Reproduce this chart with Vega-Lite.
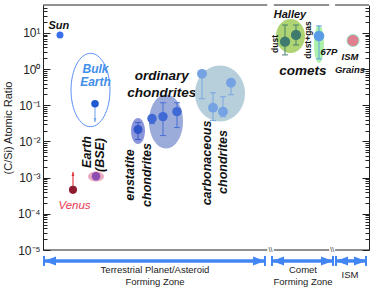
{
  "$schema": "https://vega.github.io/schema/vega-lite/v6.json",
  "width": 326,
  "height": 245,
  "autosize": {"type": "none"},
  "padding": {"left": 43, "top": 5, "right": 5, "bottom": 41},
  "config": {"view": {"stroke": null}, "font": "Liberation Sans", "text": {"font": "Liberation Sans"}},
  "datasets": {
    "pts": [
      {"g": "sun", "x": 5.21, "y": 8.81},
      {"g": "bulk", "x": 15.95, "y": 0.111},
      {"g": "venus", "x": 9.2, "y": 0.00046},
      {"g": "bse", "x": 16.26, "y": 0.00109},
      {"g": "ens", "x": 29.14, "y": 0.0214},
      {"g": "ord", "x": 33.44, "y": 0.043},
      {"g": "ord", "x": 36.81, "y": 0.0488},
      {"g": "ord", "x": 41.1, "y": 0.0669},
      {"g": "carb", "x": 48.77, "y": 0.744},
      {"g": "carb", "x": 52.15, "y": 0.0862},
      {"g": "carb", "x": 55.21, "y": 0.0669},
      {"g": "carb", "x": 57.67, "y": 0.421},
      {"g": "halley", "x": 74.23, "y": 5.75},
      {"g": "halley", "x": 77.6, "y": 8.8},
      {"g": "67p", "x": 84.66, "y": 8.26},
      {"g": "ism", "x": 95.09, "y": 6.2}
    ],
    "err": [
      {"g": "ens", "x": 29.14, "lo": 0.01135, "hi": 0.0333},
      {"g": "ord", "x": 33.44, "lo": 0.0313, "hi": 0.0497},
      {"g": "ord", "x": 36.81, "lo": 0.01462, "hi": 0.118},
      {"g": "ord", "x": 41.1, "lo": 0.0243, "hi": 0.118},
      {"g": "carb", "x": 48.77, "lo": 0.1525, "hi": 0.744},
      {"g": "carb", "x": 52.15, "lo": 0.0379, "hi": 0.223},
      {"g": "carb", "x": 55.21, "lo": 0.0488, "hi": 0.173},
      {"g": "carb", "x": 57.67, "lo": 0.1965, "hi": 0.421},
      {"g": "halley", "x": 74.23, "lo": 2.48, "hi": 16.6},
      {"g": "halley", "x": 77.6, "lo": 4.67, "hi": 16.6},
      {"g": "67p", "x": 84.66, "lo": 1.92, "hi": 15.6}
    ],
    "blobs": [
      {"g": "ens", "x": 29.14, "y": 0.01954},
      {"g": "ord", "x": 37.73, "y": 0.03573},
      {"g": "carb", "x": 54.29, "y": 0.2125},
      {"g": "halley", "x": 75.92, "y": 8.26},
      {"g": "67p", "x": 84.66, "y": 4.97},
      {"g": "ism", "x": 95.09, "y": 6.2},
      {"g": "bse", "x": 16.26, "y": 0.00108},
      {"g": "bulk", "x": 14.57, "y": 0.2655}
    ],
    "arrows": [
      {"g": "bulkArrow", "x": 15.95, "y": 0.111, "y2": 0.0346},
      {"g": "venusArrow", "x": 9.2, "y": 0.00046, "y2": 0.001435}
    ],
    "labels": [
      {"set": "big", "text": "ordinary", "x": 36.4, "y": 0.6474},
      {"set": "big", "text": "chondrites", "x": 36.4, "y": 0.2195},
      {"set": "big", "text": "comets", "x": 79.75, "y": 0.89},
      {"set": "mid", "text": "Sun", "x": 4.85, "y": 15.6},
      {"set": "mid", "text": "Halley", "x": 75.77, "y": 31.45},
      {"set": "small", "text": "67P", "x": 87.73, "y": 2.98},
      {"set": "small", "text": "ISM", "x": 94.17, "y": 2.17},
      {"set": "small", "text": "Grains", "x": 94.17, "y": 0.949},
      {"set": "blue", "text": "Bulk", "x": 16.1, "y": 0.979},
      {"set": "blue", "text": "Earth", "x": 16.1, "y": 0.4418},
      {"set": "red", "text": "Venus", "x": 9.66, "y": 0.000165},
      {"set": "rot", "text": "Earth", "x": 13.65, "y": 0.00513},
      {"set": "rot", "text": "(BSE)", "x": 17.48, "y": 0.00423},
      {"set": "rot", "text": "enstatite", "x": 26.69, "y": 0.001186},
      {"set": "rot", "text": "chondrites", "x": 31.9, "y": 0.001186},
      {"set": "rot", "text": "carbonaceous", "x": 50.2, "y": 0.00255},
      {"set": "rot", "text": "chondrites", "x": 55.21, "y": 0.00271},
      {"set": "rotsmall", "text": "dust", "x": 71.26, "y": 4.97},
      {"set": "rotsmall", "text": "dust+gas", "x": 81.38, "y": 6.41},
      {"set": "zone", "text": "Terrestrial Planet/Asteroid", "x": 34.36, "y": 0.0000028},
      {"set": "zone", "text": "Forming Zone", "x": 34.36, "y": 0.00000131},
      {"set": "zone", "text": "Comet", "x": 79.75, "y": 0.0000028},
      {"set": "zone", "text": "Forming Zone", "x": 79.75, "y": 0.00000131},
      {"set": "zone", "text": "ISM", "x": 94.17, "y": 0.00000204}
    ],
    "frame": [
      {"x": 0, "x2": 68.8},
      {"x": 70.8, "x2": 87.8},
      {"x": 89.6, "x2": 100}
    ],
    "brk": [{"x": 69.8}, {"x": 88.7}],
    "zones": [
      {"x": 0.31, "x2": 68.1, "y": 0.00000498},
      {"x": 70.25, "x2": 88.96, "y": 0.00000498},
      {"x": 89.88, "x2": 99.08, "y": 0.00000498}
    ]
  },
  "layer": [
    {
      "data": {"name": "pts"},
      "mark": {"type": "point", "opacity": 0},
      "encoding": {
        "x": {"field": "x", "type": "quantitative", "scale": {"domain": [0, 100], "nice": false, "zero": false}, "axis": null},
        "y": {"field": "y", "type": "quantitative", "scale": {"type": "log", "domain": [0.00001, 59.4], "nice": false},
          "axis": {"orient": "left", "title": "(C/Si) Atomic Ratio", "titleFont": "Liberation Sans", "titleFontSize": 11, "titleFontWeight": "normal", "titleColor": "#222", "titlePadding": 4,
            "values": [0.00001,0.00002,0.00003,0.00004,0.00005,0.00006,0.00007,0.00008,0.00009,0.0001,0.0002,0.0003,0.0004,0.0005,0.0006,0.0007,0.0008,0.0009,0.001,0.002,0.003,0.004,0.005,0.006,0.007,0.008,0.009,0.01,0.02,0.03,0.04,0.05,0.06,0.07,0.08,0.09,0.1,0.2,0.3,0.4,0.5,0.6,0.7,0.8,0.9,1,2,3,4,5,6,7,8,9,10,20,30,40,50],
            "labelExpr": "abs(log(datum.value)/LN10 - round(log(datum.value)/LN10)) < 0.001 ? '10' + ['⁻⁵','⁻⁴','⁻³','⁻²','⁻¹','⁰','¹'][round(log(datum.value)/LN10)+5] : ''",
            "labelFont": "Liberation Sans", "labelFontSize": 12, "labelColor": "#222", "labelOverlap": false, "labelFlush": false, "labelPadding": 10,
            "tickSize": {"condition": {"test": "abs(log(datum.value)/LN10 - round(log(datum.value)/LN10)) < 0.001", "value": -7}, "value": -4},
            "tickColor": "#222", "domainColor": "#222", "grid": false}
        }
      }
    },
    {
      "data": {"name": "pts"},
      "mark": {"type": "point", "opacity": 0},
      "encoding": {
        "x": {"field": "x", "type": "quantitative", "scale": {"domain": [0, 100], "nice": false, "zero": false}, "axis": null},
        "y": {"field": "y", "type": "quantitative", "scale": {"type": "log", "domain": [0.00001, 59.4], "nice": false},
          "axis": {"orient": "right", "title": null, "labels": false,
            "values": [0.00001,0.00002,0.00003,0.00004,0.00005,0.00006,0.00007,0.00008,0.00009,0.0001,0.0002,0.0003,0.0004,0.0005,0.0006,0.0007,0.0008,0.0009,0.001,0.002,0.003,0.004,0.005,0.006,0.007,0.008,0.009,0.01,0.02,0.03,0.04,0.05,0.06,0.07,0.08,0.09,0.1,0.2,0.3,0.4,0.5,0.6,0.7,0.8,0.9,1,2,3,4,5,6,7,8,9,10,20,30,40,50],
            "tickSize": {"condition": {"test": "abs(log(datum.value)/LN10 - round(log(datum.value)/LN10)) < 0.001", "value": -7}, "value": -4},
            "tickColor": "#222", "domainColor": "#222", "grid": false}
        }
      }
    },
    {
      "data": {"name": "blobs"},
      "transform": [{"filter": "datum.g == 'ens'"}],
      "mark": {"type": "point", "shape": "M -0.538 0 A 0.538 1 0 1 0 0.538 0 A 0.538 1 0 1 0 -0.538 0 Z", "size": 676, "filled": true, "color": "#7783d2", "opacity": 0.85, "strokeWidth": 0},
      "encoding": {
        "x": {"field": "x", "type": "quantitative", "scale": {"domain": [0, 100], "nice": false, "zero": false}, "axis": null},
        "y": {"field": "y", "type": "quantitative", "scale": {"type": "log", "domain": [0.00001, 59.4], "nice": false}, "axis": null}
      }
    },
    {
      "data": {"name": "blobs"},
      "transform": [{"filter": "datum.g == 'ord'"}],
      "mark": {"type": "point", "shape": "M -0.63 0 A 0.63 1 0 1 0 0.63 0 A 0.63 1 0 1 0 -0.63 0 Z", "size": 2916, "filled": true, "color": "#8b9dd3", "opacity": 0.85, "strokeWidth": 0},
      "encoding": {
        "x": {"field": "x", "type": "quantitative", "axis": null},
        "y": {"field": "y", "type": "quantitative", "axis": null}
      }
    },
    {
      "data": {"name": "labels"},
      "transform": [{"filter": "datum.set == 'big'"}],
      "mark": {"type": "text", "font": "Liberation Sans", "fontSize": 13.5, "fontWeight": "bold", "fontStyle": "italic", "color": "#111", "baseline": "middle", "align": "center"},
      "encoding": {
        "x": {"field": "x", "type": "quantitative", "axis": null},
        "y": {"field": "y", "type": "quantitative", "axis": null},
        "text": {"field": "text"}
      }
    },
    {
      "data": {"name": "blobs"},
      "transform": [{"filter": "datum.g == 'carb'"}],
      "mark": {"type": "point", "shape": "M -0.893 0 A 0.893 1 0 1 0 0.893 0 A 0.893 1 0 1 0 -0.893 0 Z", "size": 3136, "filled": true, "color": "#aecad6", "opacity": 0.9, "strokeWidth": 0},
      "encoding": {
        "x": {"field": "x", "type": "quantitative", "axis": null},
        "y": {"field": "y", "type": "quantitative", "axis": null}
      }
    },
    {
      "data": {"name": "blobs"},
      "transform": [{"filter": "datum.g == 'halley'"}],
      "mark": {"type": "point", "shape": "M -0.853 0 A 0.853 1 0 1 0 0.853 0 A 0.853 1 0 1 0 -0.853 0 Z", "size": 1156, "filled": true, "color": "#a6cf64", "opacity": 0.9, "strokeWidth": 0},
      "encoding": {
        "x": {"field": "x", "type": "quantitative", "axis": null},
        "y": {"field": "y", "type": "quantitative", "axis": null}
      }
    },
    {
      "data": {"name": "blobs"},
      "transform": [{"filter": "datum.g == '67p'"}],
      "mark": {"type": "point", "shape": "M -0.26 0 A 0.26 1 0 1 0 0.26 0 A 0.26 1 0 1 0 -0.26 0 Z", "size": 1444, "filled": true, "color": "#a2f0a0", "opacity": 0.9, "strokeWidth": 0},
      "encoding": {
        "x": {"field": "x", "type": "quantitative", "axis": null},
        "y": {"field": "y", "type": "quantitative", "axis": null}
      }
    },
    {
      "data": {"name": "blobs"},
      "transform": [{"filter": "datum.g == 'ism'"}],
      "mark": {"type": "point", "shape": "circle", "size": 169, "filled": true, "color": "#8fdfba", "opacity": 0.95, "strokeWidth": 0},
      "encoding": {
        "x": {"field": "x", "type": "quantitative", "axis": null},
        "y": {"field": "y", "type": "quantitative", "axis": null}
      }
    },
    {
      "data": {"name": "blobs"},
      "transform": [{"filter": "datum.g == 'bse'"}],
      "mark": {"type": "point", "shape": "M -1 0 A 1 0.625 0 1 0 1 0 A 1 0.625 0 1 0 -1 0 Z", "size": 256, "filled": true, "color": "#e8a2c0", "opacity": 0.9, "strokeWidth": 0},
      "encoding": {
        "x": {"field": "x", "type": "quantitative", "axis": null},
        "y": {"field": "y", "type": "quantitative", "axis": null}
      }
    },
    {
      "data": {"name": "blobs"},
      "transform": [{"filter": "datum.g == 'bulk'"}],
      "mark": {"type": "point", "shape": "M -0.531 0 A 0.531 1 0 1 0 0.531 0 A 0.531 1 0 1 0 -0.531 0 Z", "size": 5388, "filled": false, "color": "#5b8ff9", "strokeWidth": 1, "opacity": 1},
      "encoding": {
        "x": {"field": "x", "type": "quantitative", "axis": null},
        "y": {"field": "y", "type": "quantitative", "axis": null}
      }
    },
    {
      "data": {"name": "err"},
      "mark": {"type": "rule", "strokeWidth": 1.1, "opacity": 0.85},
      "encoding": {
        "x": {"field": "x", "type": "quantitative", "axis": null},
        "y": {"field": "lo", "type": "quantitative", "axis": null},
        "y2": {"field": "hi"},
        "color": {"field": "g", "type": "nominal", "legend": null,
          "scale": {"domain": ["sun", "bulk", "venus", "bse", "ens", "ord", "carb", "halley", "67p", "ism", "bulkArrow", "venusArrow"],
                    "range": ["#3a6ee8", "#1f5bd0", "#8e1b30", "#8d4cb0", "#2f56c9", "#4169d6", "#74a2e2", "#3f7b6c", "#5a9de6", "#e07f90", "#79a7ef", "#e0303a"]}}
      }
    },
    {
      "data": {"name": "err"},
      "mark": {"type": "tick", "orient": "horizontal", "size": 6, "thickness": 1.1, "opacity": 0.85},
      "encoding": {
        "x": {"field": "x", "type": "quantitative", "axis": null},
        "y": {"field": "lo", "type": "quantitative", "axis": null},
        "color": {"field": "g", "type": "nominal", "legend": null}
      }
    },
    {
      "data": {"name": "err"},
      "mark": {"type": "tick", "orient": "horizontal", "size": 6, "thickness": 1.1, "opacity": 0.85},
      "encoding": {
        "x": {"field": "x", "type": "quantitative", "axis": null},
        "y": {"field": "hi", "type": "quantitative", "axis": null},
        "color": {"field": "g", "type": "nominal", "legend": null}
      }
    },
    {
      "data": {"name": "arrows"},
      "mark": {"type": "rule", "strokeWidth": 1.1},
      "encoding": {
        "x": {"field": "x", "type": "quantitative", "axis": null},
        "y": {"field": "y", "type": "quantitative", "axis": null},
        "y2": {"field": "y2"},
        "color": {"field": "g", "type": "nominal", "legend": null}
      }
    },
    {
      "data": {"name": "arrows"},
      "transform": [{"filter": "datum.g == 'bulkArrow'"}],
      "mark": {"type": "point", "shape": "M -0.7 -2 L 0 0 L 0.7 -2 Z", "size": 16, "filled": true, "color": "#79a7ef", "strokeWidth": 0, "opacity": 1},
      "encoding": {
        "x": {"field": "x", "type": "quantitative", "axis": null},
        "y": {"field": "y2", "type": "quantitative", "axis": null}
      }
    },
    {
      "data": {"name": "arrows"},
      "transform": [{"filter": "datum.g == 'venusArrow'"}],
      "mark": {"type": "point", "shape": "M -0.7 2 L 0 0 L 0.7 2 Z", "size": 16, "filled": true, "color": "#e0303a", "strokeWidth": 0, "opacity": 1},
      "encoding": {
        "x": {"field": "x", "type": "quantitative", "axis": null},
        "y": {"field": "y2", "type": "quantitative", "axis": null}
      }
    },
    {
      "data": {"name": "pts"},
      "mark": {"type": "point", "shape": "circle", "filled": true, "opacity": 1, "strokeWidth": 0},
      "encoding": {
        "x": {"field": "x", "type": "quantitative", "axis": null},
        "y": {"field": "y", "type": "quantitative", "axis": null},
        "color": {"field": "g", "type": "nominal", "legend": null},
        "size": {"field": "g", "type": "ordinal", "legend": null,
          "scale": {"domain": ["sun", "bulk", "venus", "bse", "ens", "ord", "carb", "halley", "67p", "ism"], "range": [49, 121, 100, 36, 49, 49, 49, 49, 42, 29]}}
      }
    },
    {
      "data": {"name": "labels"},
      "transform": [{"filter": "datum.set == 'mid'"}],
      "mark": {"type": "text", "font": "Liberation Sans", "fontSize": 11, "fontWeight": "bold", "fontStyle": "italic", "color": "#111", "baseline": "middle", "align": "center"},
      "encoding": {
        "x": {"field": "x", "type": "quantitative", "axis": null},
        "y": {"field": "y", "type": "quantitative", "axis": null},
        "text": {"field": "text"}
      }
    },
    {
      "data": {"name": "labels"},
      "transform": [{"filter": "datum.set == 'small'"}],
      "mark": {"type": "text", "font": "Liberation Sans", "fontSize": 9.5, "fontWeight": "bold", "fontStyle": "italic", "color": "#111", "baseline": "middle", "align": "center"},
      "encoding": {
        "x": {"field": "x", "type": "quantitative", "axis": null},
        "y": {"field": "y", "type": "quantitative", "axis": null},
        "text": {"field": "text"}
      }
    },
    {
      "data": {"name": "labels"},
      "transform": [{"filter": "datum.set == 'blue'"}],
      "mark": {"type": "text", "font": "Liberation Sans", "fontSize": 12, "fontWeight": "bold", "fontStyle": "italic", "color": "#3f8ee8", "baseline": "middle", "align": "center"},
      "encoding": {
        "x": {"field": "x", "type": "quantitative", "axis": null},
        "y": {"field": "y", "type": "quantitative", "axis": null},
        "text": {"field": "text"}
      }
    },
    {
      "data": {"name": "labels"},
      "transform": [{"filter": "datum.set == 'red'"}],
      "mark": {"type": "text", "font": "Liberation Sans", "fontSize": 11.5, "fontStyle": "italic", "color": "#e8364f", "baseline": "middle", "align": "center"},
      "encoding": {
        "x": {"field": "x", "type": "quantitative", "axis": null},
        "y": {"field": "y", "type": "quantitative", "axis": null},
        "text": {"field": "text"}
      }
    },
    {
      "data": {"name": "labels"},
      "transform": [{"filter": "datum.set == 'rot'"}],
      "mark": {"type": "text", "font": "Liberation Sans", "fontSize": 12.5, "fontWeight": "bold", "fontStyle": "italic", "color": "#111", "baseline": "middle", "align": "center", "angle": 270},
      "encoding": {
        "x": {"field": "x", "type": "quantitative", "axis": null},
        "y": {"field": "y", "type": "quantitative", "axis": null},
        "text": {"field": "text"}
      }
    },
    {
      "data": {"name": "labels"},
      "transform": [{"filter": "datum.set == 'rotsmall'"}],
      "mark": {"type": "text", "font": "Liberation Sans", "fontSize": 8.5, "fontWeight": "bold", "color": "#111", "baseline": "middle", "align": "center", "angle": 270},
      "encoding": {
        "x": {"field": "x", "type": "quantitative", "axis": null},
        "y": {"field": "y", "type": "quantitative", "axis": null},
        "text": {"field": "text"}
      }
    },
    {
      "data": {"name": "frame"},
      "mark": {"type": "rule", "color": "#222", "strokeWidth": 1},
      "encoding": {
        "x": {"field": "x", "type": "quantitative", "axis": null},
        "x2": {"field": "x2"},
        "y": {"datum": 59.4, "type": "quantitative", "axis": null}
      }
    },
    {
      "data": {"name": "frame"},
      "mark": {"type": "rule", "color": "#222", "strokeWidth": 1},
      "encoding": {
        "x": {"field": "x", "type": "quantitative", "axis": null},
        "x2": {"field": "x2"},
        "y": {"datum": 0.00001, "type": "quantitative", "axis": null}
      }
    },
    {
      "data": {"name": "brk"},
      "mark": {"type": "text", "text": "\\\\", "font": "Liberation Sans", "fontSize": 7, "color": "#222", "baseline": "middle", "align": "center"},
      "encoding": {
        "x": {"field": "x", "type": "quantitative", "axis": null},
        "y": {"datum": 0.00001, "type": "quantitative", "axis": null}
      }
    },
    {
      "data": {"name": "zones"},
      "mark": {"type": "rule", "color": "#4285f4", "strokeWidth": 3.5},
      "encoding": {
        "x": {"field": "x", "type": "quantitative", "axis": null},
        "x2": {"field": "x2"},
        "y": {"field": "y", "type": "quantitative", "axis": null}
      }
    },
    {
      "data": {"name": "zones"},
      "mark": {"type": "point", "shape": "M 2 -0.75 L 0 0 L 2 0.75 Z", "size": 144, "filled": true, "color": "#4285f4", "strokeWidth": 0, "opacity": 1},
      "encoding": {
        "x": {"field": "x", "type": "quantitative", "axis": null},
        "y": {"field": "y", "type": "quantitative", "axis": null}
      }
    },
    {
      "data": {"name": "zones"},
      "mark": {"type": "point", "shape": "M -2 -0.75 L 0 0 L -2 0.75 Z", "size": 144, "filled": true, "color": "#4285f4", "strokeWidth": 0, "opacity": 1},
      "encoding": {
        "x": {"field": "x2", "type": "quantitative", "axis": null},
        "y": {"field": "y", "type": "quantitative", "axis": null}
      }
    },
    {
      "data": {"name": "zones"},
      "mark": {"type": "tick", "orient": "vertical", "size": 10, "thickness": 2, "color": "#4285f4", "opacity": 1},
      "encoding": {
        "x": {"field": "x", "type": "quantitative", "axis": null},
        "y": {"field": "y", "type": "quantitative", "axis": null}
      }
    },
    {
      "data": {"name": "zones"},
      "mark": {"type": "tick", "orient": "vertical", "size": 10, "thickness": 2, "color": "#4285f4", "opacity": 1},
      "encoding": {
        "x": {"field": "x2", "type": "quantitative", "axis": null},
        "y": {"field": "y", "type": "quantitative", "axis": null}
      }
    },
    {
      "data": {"name": "labels"},
      "transform": [{"filter": "datum.set == 'zone'"}],
      "mark": {"type": "text", "font": "Liberation Sans", "fontSize": 9.5, "color": "#222", "baseline": "middle", "align": "center"},
      "encoding": {
        "x": {"field": "x", "type": "quantitative", "axis": null},
        "y": {"field": "y", "type": "quantitative", "axis": null},
        "text": {"field": "text"}
      }
    }
  ],
  "resolve": {"axis": {"y": "independent"}}
}
